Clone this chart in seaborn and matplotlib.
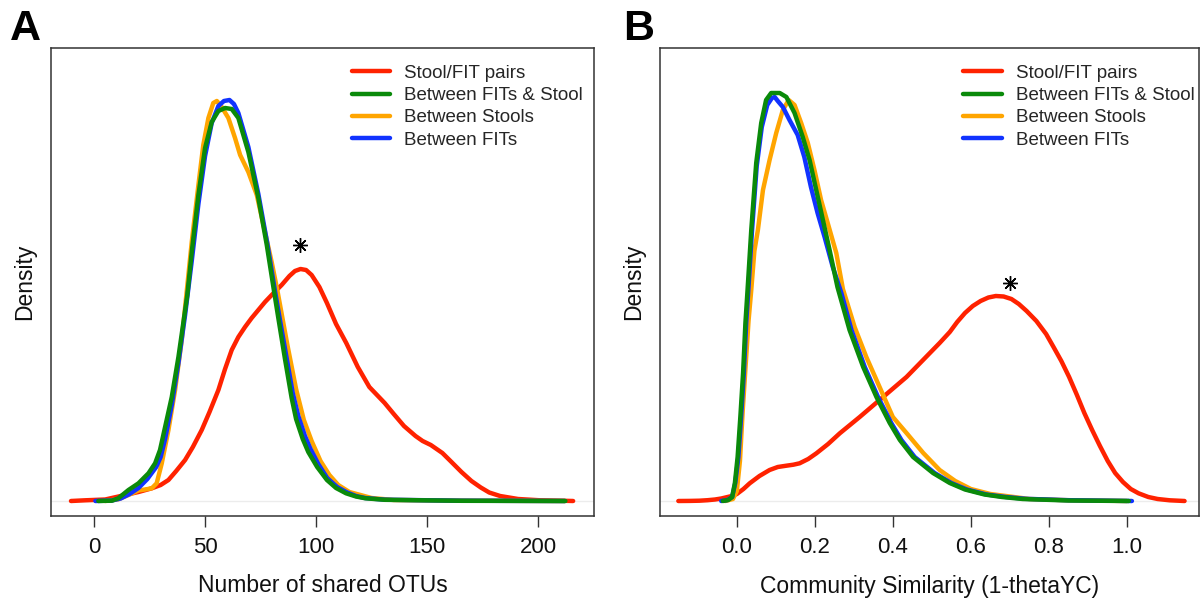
import matplotlib
matplotlib.use("Agg")
import matplotlib.pyplot as plt
import numpy as np
import pandas as pd
import seaborn as sns

# ---------------- data ----------------
groups = ["Stool/FIT pairs", "Between FITs & Stool", "Between Stools", "Between FITs"]
colors = ["#FF2200", "#0A8A0A", "#FFA500", "#1133FF"]
draw_order = ["Stool/FIT pairs", "Between Stools", "Between FITs", "Between FITs & Stool"]

# Panel A: number of shared OTUs
a_pairs_x = [-10.4, -4, 5, 14, 20, 26, 30, 33.5, 37, 41, 44.5, 48.5, 52, 56, 59, 62, 65, 68,
             71, 74, 77, 80, 84.5, 88, 90.5, 93, 95.5, 98, 101.5, 104.9, 109, 113.6, 118.8,
             124, 130.9, 135, 139.6, 144.8, 148, 151.7, 156.9, 161, 165.5, 170, 174.2,
             178, 182.9, 191, 200.2, 215.8]
a_pairs_d = [0, 0.00007, 0.00015, 0.0006, 0.0009, 0.00127, 0.0016, 0.0021, 0.0030, 0.0041,
             0.0054, 0.0071, 0.0089, 0.0111, 0.0132, 0.0151, 0.0164, 0.0174, 0.0183,
             0.0191, 0.0199, 0.0206, 0.0216, 0.0225, 0.0230, 0.0232, 0.0231, 0.0226,
             0.0214, 0.0198, 0.0177, 0.0158, 0.0134, 0.0114, 0.0098, 0.0087, 0.0075,
             0.0065, 0.0060, 0.0056, 0.0048, 0.0039, 0.0029, 0.0020, 0.00135, 0.00085,
             0.0005, 0.0002, 0.00008, 0]

a_fitstool_x = [1.9, 8, 10.9, 15.5, 20, 24.5, 27.5, 29.7, 32, 35, 38, 40.2, 42, 44, 47, 50,
                53, 56, 59, 62, 65, 69.5, 74, 77.8, 81.2, 83, 86, 89, 91, 94, 96.5, 100.5,
                104.9, 109, 113.5, 118, 122.2, 130.9, 165.5, 212.3]
a_fitstool_d = [0, 0.00003, 0.00027, 0.0011, 0.00177, 0.00277, 0.00377, 0.0051, 0.0074,
                0.0104, 0.0144, 0.0178, 0.0206, 0.0249, 0.0306, 0.0353, 0.0379, 0.0390,
                0.0393, 0.0392, 0.0383, 0.0349, 0.0303, 0.0256, 0.0208, 0.0183, 0.0142,
                0.0103, 0.0082, 0.0062, 0.0049, 0.0034, 0.0021, 0.0013, 0.00077, 0.00045,
                0.00027, 0.00012, 0.00002, 0]

a_stools_x = [5, 10.9, 15.5, 20, 23, 26, 28.2, 30.5, 33.5, 36.5, 39.5, 41.8, 44, 47, 49.2,
              51.5, 53.7, 55.3, 57.5, 60.5, 63.5, 65.8, 69.5, 73.3, 77, 80, 82.7, 87, 91,
              94.5, 98, 102, 106, 110, 115, 125, 135, 170, 212]
a_stools_d = [0, 0.00017, 0.0006, 0.00105, 0.00115, 0.00127, 0.00177, 0.00377, 0.0071,
              0.0111, 0.0161, 0.0211, 0.0259, 0.0316, 0.0356, 0.0383, 0.0398, 0.0400,
              0.0394, 0.0383, 0.0363, 0.0346, 0.0329, 0.0306, 0.0269, 0.0239, 0.0209,
              0.0157, 0.0112, 0.0081, 0.0060, 0.0040, 0.0026, 0.0016, 0.0009, 0.0003,
              0.0001, 0.00003, 0]

a_fits_x = [0.6, 8, 12, 16, 20, 24, 28, 30, 32, 35, 38, 41, 44, 47, 50, 53, 56, 58.5, 61,
            63, 65, 69.5, 74, 78, 81.5, 83.5, 86.5, 89.5, 92, 95, 97.5, 101, 105, 109.5,
            114, 118, 122, 131, 165, 212]
a_fits_d = [0, 0.00005, 0.00025, 0.0007, 0.0013, 0.0022, 0.0034, 0.0044, 0.0062, 0.0096,
            0.0138, 0.0186, 0.0240, 0.0297, 0.0345, 0.0378, 0.0395, 0.0400, 0.0401, 0.0397,
            0.0388, 0.0354, 0.0307, 0.0258, 0.0210, 0.0184, 0.0146, 0.0108, 0.0085,
            0.0065, 0.0052, 0.0037, 0.0023, 0.0014, 0.00085, 0.0005, 0.0003, 0.00013,
            0.00003, 0]

a_star_x = [92.8]
a_star_d = [0.0256]
a_xticks = [0, 50, 100, 150, 200]
a_xticklabels = ["0", "50", "100", "150", "200"]

# Panel B: community similarity (1-thetaYC)
b_pairs_x = [-0.150, -0.120, -0.096, -0.075, -0.056, -0.040, -0.027, -0.013, 0.0, 0.017,
             0.033, 0.058, 0.084, 0.105, 0.127, 0.145, 0.161, 0.183, 0.204, 0.234, 0.264,
             0.290, 0.315, 0.345, 0.375, 0.405, 0.435, 0.465, 0.495, 0.520, 0.546, 0.565,
             0.585, 0.605, 0.625, 0.645, 0.664, 0.684, 0.704, 0.723, 0.743, 0.768, 0.793,
             0.812, 0.832, 0.852, 0.872, 0.891, 0.911, 0.931, 0.951, 0.970, 0.990, 1.010,
             1.030, 1.055, 1.079, 1.110, 1.148]
b_pairs_d = [0, 0.001, 0.003, 0.008, 0.015, 0.025, 0.037, 0.05, 0.07, 0.12, 0.177, 0.25,
             0.31, 0.34, 0.353, 0.363, 0.377, 0.42, 0.477, 0.57, 0.677, 0.76, 0.84, 0.94,
             1.04, 1.14, 1.24, 1.36, 1.48, 1.58, 1.69, 1.79, 1.88, 1.95, 2.0, 2.035, 2.05,
             2.045, 2.02, 1.97, 1.90, 1.80, 1.67, 1.54, 1.40, 1.24, 1.06, 0.88, 0.71, 0.55,
             0.40, 0.28, 0.19, 0.12, 0.077, 0.04, 0.02, 0.007, 0]

b_fitstool_x = [-0.036, -0.022, -0.012, -0.005, 0.002, 0.009, 0.016, 0.022, 0.027, 0.037,
                0.0497, 0.0625, 0.075, 0.088, 0.11, 0.127, 0.148, 0.169, 0.1865, 0.2036,
                0.2207, 0.2378, 0.258, 0.289, 0.324, 0.358, 0.392, 0.418, 0.452, 0.503,
                0.546, 0.585, 0.635, 0.68, 0.733, 0.85, 1.005]
b_fitstool_d = [0, 0.01, 0.04, 0.18, 0.44, 0.84, 1.28, 1.78, 2.08, 2.71, 3.38, 3.78, 4.01,
                4.08, 4.08, 4.04, 3.88, 3.64, 3.41, 3.11, 2.81, 2.51, 2.14, 1.71, 1.34,
                1.04, 0.78, 0.61, 0.44, 0.28, 0.18, 0.115, 0.065, 0.04, 0.02, 0.005, 0]

b_stools_x = [-0.03, -0.01, 0.0, 0.008, 0.015, 0.024, 0.03, 0.037, 0.045, 0.054, 0.067,
              0.084, 0.101, 0.118, 0.133, 0.148, 0.165, 0.182, 0.199, 0.216, 0.233, 0.255,
              0.272, 0.302, 0.332, 0.366, 0.400, 0.435, 0.478, 0.520, 0.56, 0.6, 0.65,
              0.75, 0.85, 1.0]
b_stools_d = [0, 0.02, 0.10, 0.40, 0.90, 1.44, 1.80, 2.11, 2.50, 2.71, 3.11, 3.41, 3.68,
              3.91, 4.01, 3.96, 3.78, 3.58, 3.31, 3.01, 2.78, 2.48, 2.12, 1.74, 1.44,
              1.14, 0.84, 0.68, 0.48, 0.31, 0.20, 0.12, 0.07, 0.02, 0.008, 0]

b_fits_x = [-0.04, -0.024, -0.012, -0.004, 0.004, 0.011, 0.018, 0.024, 0.029, 0.039, 0.051,
            0.064, 0.078, 0.09, 0.097, 0.105, 0.118, 0.135, 0.156, 0.173, 0.19, 0.207,
            0.225, 0.246, 0.268, 0.294, 0.328, 0.362, 0.396, 0.422, 0.456, 0.507, 0.55,
            0.59, 0.64, 0.69, 0.74, 0.85, 1.013]
b_fits_d = [0, 0.01, 0.04, 0.18, 0.44, 0.84, 1.28, 1.78, 2.08, 2.71, 3.35, 3.74, 3.96,
            4.03, 4.04, 4.00, 3.94, 3.81, 3.66, 3.44, 3.14, 2.88, 2.64, 2.34, 2.08, 1.71,
            1.34, 1.04, 0.78, 0.61, 0.44, 0.28, 0.18, 0.115, 0.065, 0.04, 0.022, 0.008, 0]

b_star_x = [0.70]
b_star_d = [2.18]
b_xticks = [0.0, 0.2, 0.4, 0.6, 0.8, 1.0]
b_xticklabels = ["0.0", "0.2", "0.4", "0.6", "0.8", "1.0"]

# ---------------- build tables ----------------
def make_df(series):
    frames = []
    for name, xs, ds in series:
        frames.append(pd.DataFrame({"x": xs, "density": ds, "group": name}))
    return pd.concat(frames, ignore_index=True)

df_a = make_df([
    (groups[0], a_pairs_x, a_pairs_d),
    (groups[1], a_fitstool_x, a_fitstool_d),
    (groups[2], a_stools_x, a_stools_d),
    (groups[3], a_fits_x, a_fits_d),
])
df_b = make_df([
    (groups[0], b_pairs_x, b_pairs_d),
    (groups[1], b_fitstool_x, b_fitstool_d),
    (groups[2], b_stools_x, b_stools_d),
    (groups[3], b_fits_x, b_fits_d),
])

# ---------------- style ----------------
sns.set_theme(style="white")
plt.rcParams["font.family"] = ["Liberation Sans", "DejaVu Sans"]
palette = dict(zip(groups, colors))

W, H = 1200, 609
fig = plt.figure(figsize=(W / 100, H / 100), dpi=100)

def px_axes(left, top, right, bottom):
    return fig.add_axes([left / W, 1 - bottom / H, (right - left) / W, (bottom - top) / H])

ax_a = px_axes(51, 48, 594, 516)
ax_b = px_axes(660, 48, 1199, 516)

panels = [
    (ax_a, df_a, a_star_x, a_star_d, a_xticks, a_xticklabels, (-19.4, 225.2), (-0.0015, 0.0453),
     "Number of shared OTUs", 0.554, "A", 10),
    (ax_b, df_b, b_star_x, b_star_d, b_xticks, b_xticklabels, (-0.197, 1.185), (-0.15, 4.53),
     "Community Similarity (1-thetaYC)", 0.563, "B", 623),
]

for ax, df, sx, sd, xt, xtl, xlim, ylim, xlabel, legx, letter, letx in panels:
    ax.axhline(0, color="#ececec", lw=1.0, zorder=0)
    sns.lineplot(data=df, x="x", y="density", hue="group", hue_order=draw_order,
                 palette=palette, estimator=None, sort=False, lw=3.2, ax=ax,
                 solid_capstyle="round", solid_joinstyle="round", legend=True)
    ax.plot(sx, sd, linestyle="none", marker=(8, 2, 0), markersize=10.5,
            markeredgewidth=1.0, color="black")
    ax.set_xlim(*xlim)
    ax.set_ylim(*ylim)
    ax.set_xticks(xt)
    ax.set_xticklabels(xtl)
    ax.set_yticks([])
    ax.tick_params(axis="x", bottom=True, direction="out", length=8, width=1.0,
                   color="#333333", labelsize=16, pad=7, labelcolor="#111111")
    for s in ax.spines.values():
        s.set_visible(True)
        s.set_color("#333333")
        s.set_linewidth(1.1)
    ax.set_xlabel(xlabel, fontsize=16.5, color="#111111")
    ax.xaxis.set_label_coords(0.5, -0.125)
    ax.set_ylabel("Density", fontsize=16.5, color="#111111")
    ax.yaxis.set_label_coords(-0.028, 0.5)

    handles, labels = ax.get_legend_handles_labels()
    hmap = dict(zip(labels, handles))
    ax.legend([hmap[g] for g in groups], groups, loc="upper left",
              bbox_to_anchor=(legx, 0.964), frameon=False, fontsize=13.5,
              handlelength=2.05, handletextpad=0.75, labelspacing=0.27,
              borderpad=0, borderaxespad=0)
    fig.text(letx / W, 1 - 40 / H, letter, fontsize=31, fontweight="bold",
             ha="left", va="baseline", color="black")

fig.savefig("out.png", dpi=100)
